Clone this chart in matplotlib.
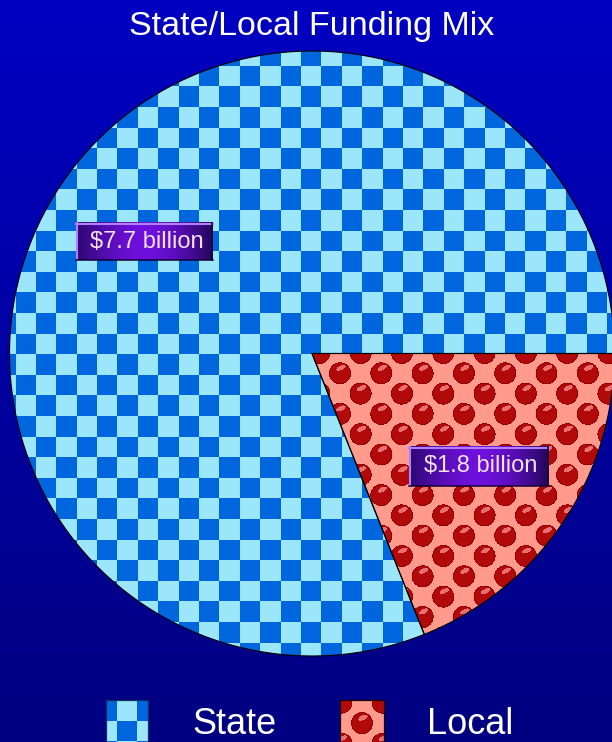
import numpy as np
import matplotlib
matplotlib.use("Agg")
import matplotlib.pyplot as plt
from matplotlib.patches import Rectangle
from matplotlib.lines import Line2D

plt.rcParams['font.family'] = ['Liberation Sans', 'DejaVu Sans']

# ---------------- data ----------------
title = "State/Local Funding Mix"
categories = ["State", "Local"]
values = [7.7, 1.8]  # $ billion
label_texts = [f"${v} billion" for v in values]

# ---------------- layout ----------------
W, H = 612, 742
fig = plt.figure(figsize=(W / 100, H / 100), dpi=100)
ax = fig.add_axes([0, 0, 1, 1])


def Y(y):  # image y (down) -> data y (up)
    return H - y


# background gradient
g = np.linspace(0, 1, H)[:, None, None]
top = np.array([0, 0, 194]) / 255
bot = np.array([0, 0, 128]) / 255
bg = top * (1 - g) + bot * g
ax.imshow(bg, extent=(0, W, 0, H), aspect='auto', origin='upper', zorder=0)

# pixel grid (image coordinates)
xs = np.arange(W) + 0.5
ys = np.arange(H) + 0.5
PX, PY = np.meshgrid(xs, ys)

DARK = np.array([0, 102, 222]) / 255
LIGHT = np.array([155, 230, 250]) / 255
SALMON = np.array([255, 154, 141]) / 255
RED = np.array([178, 10, 10]) / 255
RIM = np.array([150, 0, 0]) / 255
HIGHL = np.array([232, 112, 112]) / 255


def checker(x0, y0, cw, ch):
    c = np.floor((PX - x0) / cw)
    r = np.floor((PY - y0) / ch)
    dark = np.mod(r + c, 2) == 1
    return np.where(dark[..., None], DARK, LIGHT)


def dots(x0, y0, dx, dy, rad):
    best = np.full(PX.shape, np.inf)
    bdx = np.zeros(PX.shape)
    bdy = np.zeros(PX.shape)
    j0 = np.round((PY - y0) / dy)
    for dj in (-1, 0, 1):
        j = j0 + dj
        rowy = y0 + j * dy
        off = x0 + np.mod(j, 2) * dx / 2
        k = np.round((PX - off) / dx)
        ddx = PX - (off + k * dx)
        ddy = PY - rowy
        d = np.hypot(ddx, ddy)
        m = d < best
        best = np.where(m, d, best)
        bdx = np.where(m, ddx, bdx)
        bdy = np.where(m, ddy, bdy)
    img = np.broadcast_to(SALMON, PX.shape + (3,)).copy()
    inside = best < rad
    rim = inside & (best > rad - 1.0)
    img[inside] = RED
    img[rim] = RIM
    hx = bdx - 1.0
    hy = bdy + 5.5
    ca, sa = np.cos(np.radians(25)), np.sin(np.radians(25))
    u = hx * ca - hy * sa
    v = hx * sa + hy * ca
    hl = inside & ((u / 5.0) ** 2 + (v / 2.3) ** 2 < 1)
    img[hl] = HIGHL
    return img


# pie
cx, cy, R = 312, Y(353.5), 302.5
wedges, _ = ax.pie(values, center=(cx, cy), radius=R, startangle=0,
                   counterclock=True,
                   wedgeprops=dict(edgecolor='black', linewidth=0.8,
                                   facecolor='none', zorder=3))

state_tex = checker(76.7, 210.0, 20.4, 20.6)
local_tex = dots(340.0, 373.3, 41.3, 20.3, 11.0)

im1 = ax.imshow(state_tex, extent=(0, W, 0, H), origin='upper',
                interpolation='nearest', aspect='auto', zorder=2)
im1.set_clip_path(wedges[0])
im2 = ax.imshow(local_tex, extent=(0, W, 0, H), origin='upper',
                interpolation='nearest', aspect='auto', zorder=2)
im2.set_clip_path(wedges[1])


# value labels
def label_box(x0, x1, y0, y1, text):
    n = 240
    t = np.linspace(-1, 1, n)
    left = np.array([44, 8, 112]) / 255
    right = np.array([34, 6, 86]) / 255
    center = np.array([112, 16, 222]) / 255
    edge = left[None, :] * (1 - (t[:, None] + 1) / 2) + right[None, :] * ((t[:, None] + 1) / 2)
    bright = (1 - np.abs(t) ** 1.6)[:, None]
    grad = edge + (center - edge) * bright
    ax.imshow(grad[None, :, :], extent=(x0, x1, Y(y1), Y(y0)), aspect='auto',
              interpolation='bilinear', zorder=5)
    lw = 1.5
    ax.add_line(Line2D([x0, x1], [Y(y0 + 0.8)] * 2, color='#B080FF', lw=lw, zorder=6))
    ax.add_line(Line2D([x0 + 0.8] * 2, [Y(y0), Y(y1)], color='#B080FF', lw=lw, zorder=6))
    ax.add_line(Line2D([x0, x1], [Y(y1 - 0.6)] * 2, color='#140038', lw=1.1, zorder=6))
    ax.add_line(Line2D([x1 - 0.6] * 2, [Y(y0), Y(y1)], color='#140038', lw=1.1, zorder=6))
    ax.text((x0 + x1) / 2 + 2, Y((y0 + y1) / 2), text, ha='center', va='center',
            fontsize=17, color='#F2E2EA', zorder=7)


label_box(76, 213, 222.7, 260.3, label_texts[0])
label_box(409.3, 549, 446.7, 486.3, label_texts[1])

# title
ax.text(312, Y(26.5), title, ha='center', va='center', fontsize=24.5,
        color='white', zorder=7)

# legend
sw_state = checker(117.0, 700.0, 20.4, 20.6)
sw_local = dots(362.0, 723.2, 41.0, 20.6, 11.0)
for tex, x0, x1, ec in [(sw_state, 106, 148, '#103060'), (sw_local, 340, 384, '#200000')]:
    rect = Rectangle((x0, Y(745)), x1 - x0, 45, transform=ax.transData,
                     facecolor='none', edgecolor=ec, lw=0.9, zorder=6)
    ax.add_patch(rect)
    im = ax.imshow(tex, extent=(0, W, 0, H), origin='upper',
                   interpolation='nearest', aspect='auto', zorder=5)
    im.set_clip_path(rect)

ax.text(192, Y(724.5), categories[0], ha='left', va='center', fontsize=26,
        color='white', zorder=7)
ax.text(427, Y(724.5), categories[1], ha='left', va='center', fontsize=26,
        color='white', zorder=7)

ax.set_xlim(0, W)
ax.set_ylim(0, H)
ax.set_aspect('auto')
ax.axis('off')
fig.savefig('out.png', dpi=100)
